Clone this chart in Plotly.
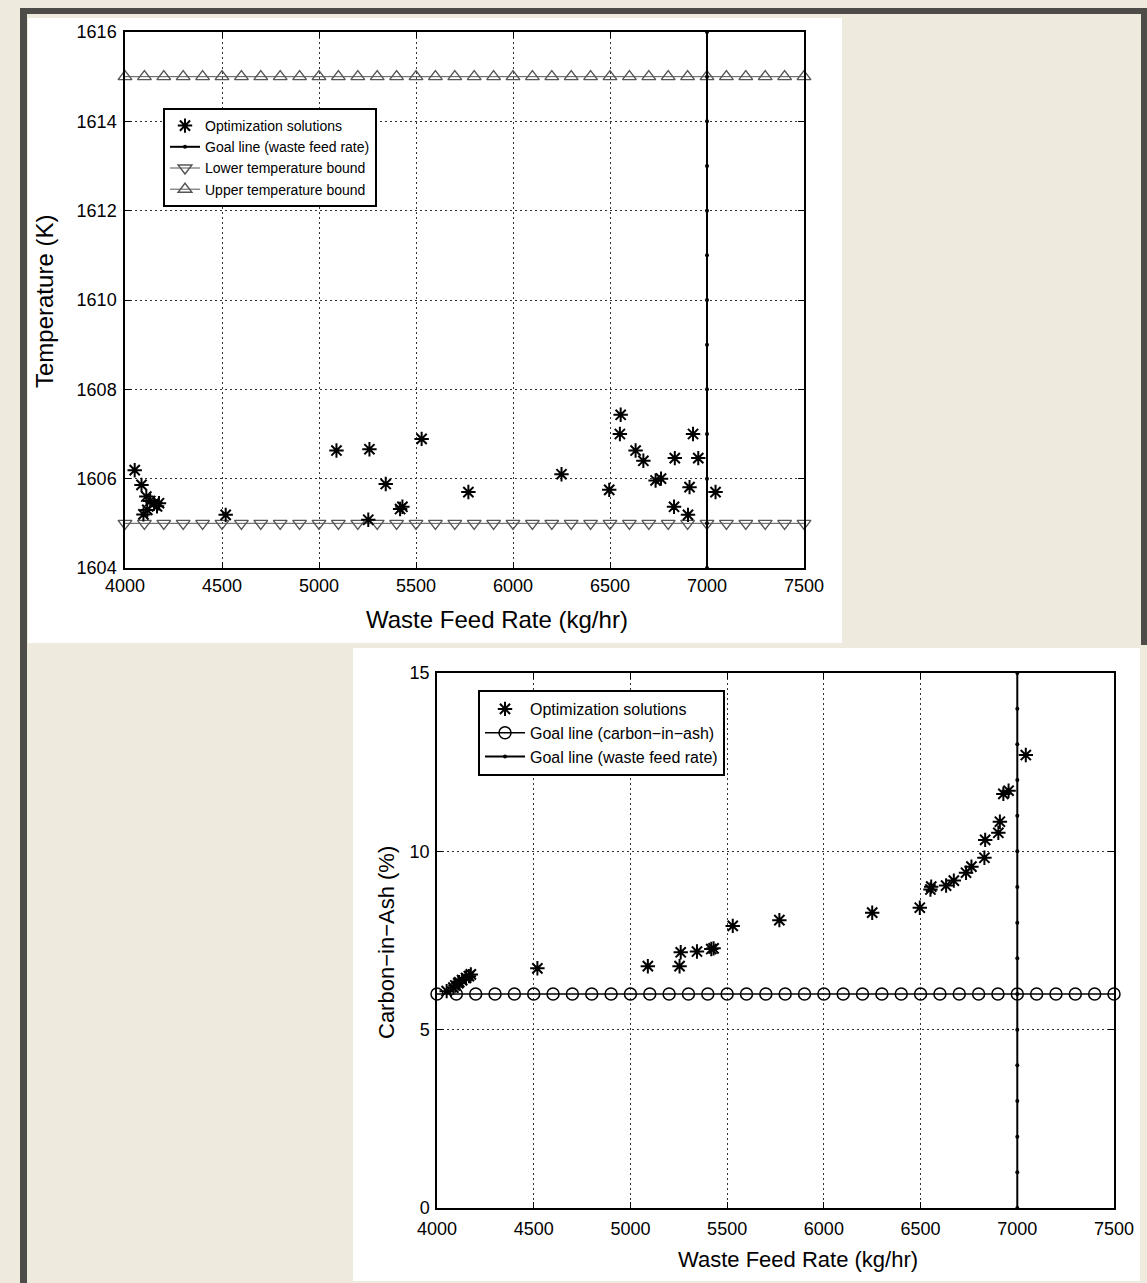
import plotly.graph_objects as go

W, H = 1147, 1283

# ---------------- data ----------------
feed_rate = [4050, 4085, 4095, 4110, 4115, 4130, 4150, 4165, 4175, 4519, 5090, 5254,
             5260, 5344, 5418, 5430, 5529, 5770, 6250, 6496, 6551, 6555, 6632, 6672,
             6735, 6763, 6830, 6834, 6902, 6910, 6928, 6955, 7044]
temperature = [1606.19, 1605.86, 1605.20, 1605.60, 1605.30, 1605.50, 1605.45, 1605.38,
               1605.45, 1605.19, 1606.63, 1605.08, 1606.66, 1605.88, 1605.32, 1605.37,
               1606.89, 1605.70, 1606.10, 1605.75, 1607.00, 1607.43, 1606.63, 1606.40,
               1605.96, 1606.00, 1605.37, 1606.46, 1605.19, 1605.81, 1607.00, 1606.46,
               1605.70]
carbon_in_ash = [6.08, 6.18, 6.24, 6.30, 6.33, 6.39, 6.45, 6.50, 6.55, 6.72, 6.78, 6.78,
                 7.17, 7.19, 7.26, 7.28, 7.91, 8.07, 8.28, 8.42, 8.93, 9.01, 9.04, 9.18,
                 9.40, 9.57, 9.82, 10.32, 10.52, 10.83, 11.61, 11.70, 12.70]

bound_x = [4000, 4100, 4200, 4300, 4400, 4500, 4600, 4700, 4800, 4900, 5000, 5100,
           5200, 5300, 5400, 5500, 5600, 5700, 5800, 5900, 6000, 6100, 6200, 6300,
           6400, 6500, 6600, 6700, 6800, 6900, 7000, 7100, 7200, 7300, 7400, 7500]
lower_temp_bound = 1605
upper_temp_bound = 1615
carbon_goal = 6
feed_goal = 7000
goal_temp_y = [1604, 1605, 1606, 1607, 1608, 1609, 1610, 1611, 1612, 1613, 1614, 1615, 1616]
goal_carbon_y = [0, 1, 2, 3, 4, 5, 6, 7, 8, 9, 10, 11, 12, 13, 14, 15]

x_ticks = [4000, 4500, 5000, 5500, 6000, 6500, 7000, 7500]
temp_ticks = [1604, 1606, 1608, 1610, 1612, 1614, 1616]
carbon_ticks = [0, 5, 10, 15]

x_title = "Waste Feed Rate (kg/hr)"
temp_title = "Temperature (K)"
carbon_title = "Carbon\u2212in\u2212Ash (%)"

FONT = "Liberation Sans, Arial, Helvetica, sans-serif"

fig = go.Figure()

# ---------- top plot ----------
fig.add_trace(go.Scatter(
    x=bound_x, y=[upper_temp_bound] * len(bound_x), mode="lines+markers",
    name="Upper temperature bound", legend="legend", legendrank=4,
    line=dict(color="#555", width=1),
    marker=dict(symbol="triangle-up-open", size=12, color="#555", line=dict(width=1.4)),
    cliponaxis=False, xaxis="x", yaxis="y"))
fig.add_trace(go.Scatter(
    x=bound_x, y=[lower_temp_bound] * len(bound_x), mode="lines+markers",
    name="Lower temperature bound", legend="legend", legendrank=3,
    line=dict(color="#555", width=1),
    marker=dict(symbol="triangle-down-open", size=12, color="#555", line=dict(width=1.4)),
    cliponaxis=False, xaxis="x", yaxis="y"))
fig.add_trace(go.Scatter(
    x=[feed_goal] * len(goal_temp_y), y=goal_temp_y, mode="lines+markers",
    name="Goal line (waste feed rate)", legend="legend", legendrank=2,
    line=dict(color="black", width=2),
    marker=dict(symbol="circle", size=4, color="black"),
    xaxis="x", yaxis="y"))
fig.add_trace(go.Scatter(
    x=feed_rate, y=temperature, mode="markers",
    name="Optimization solutions", legend="legend", legendrank=1,
    marker=dict(symbol="asterisk-open", size=12, color="black", line=dict(width=2, color="black")),
    xaxis="x", yaxis="y"))

# ---------- bottom plot ----------
fig.add_trace(go.Scatter(
    x=bound_x, y=[carbon_goal] * len(bound_x), mode="lines+markers",
    name="Goal line (carbon\u2212in\u2212ash)", legend="legend2", legendrank=2,
    line=dict(color="black", width=1.5),
    marker=dict(symbol="circle-open", size=12, color="black", line=dict(width=1.5)),
    cliponaxis=False, xaxis="x2", yaxis="y2"))
fig.add_trace(go.Scatter(
    x=[feed_goal] * len(goal_carbon_y), y=goal_carbon_y, mode="lines+markers",
    name="Goal line (waste feed rate)", legend="legend2", legendrank=3,
    line=dict(color="black", width=2),
    marker=dict(symbol="circle", size=4, color="black"),
    xaxis="x2", yaxis="y2"))
fig.add_trace(go.Scatter(
    x=feed_rate, y=carbon_in_ash, mode="markers",
    name="Optimization solutions", legend="legend2", legendrank=1,
    marker=dict(symbol="asterisk-open", size=12, color="black", line=dict(width=2, color="black")),
    xaxis="x2", yaxis="y2"))

axis_common = dict(
    automargin=False,
    showline=True, linecolor="black", linewidth=1.5, mirror="ticks",
    ticks="inside", ticklen=6, tickcolor="black", tickwidth=1.2,
    showgrid=True, gridcolor="#333", griddash="2px,3px", gridwidth=1,
    zeroline=False, tickfont=dict(size=18, color="black", family=FONT),
)

def px2x(p):
    return p / W

def px2y(p):
    return 1 - p / H

layout_shapes = []
def rect(x0, y0, x1, y1, color):
    layout_shapes.append(dict(type="rect", xref="paper", yref="paper",
                              x0=px2x(x0), x1=px2x(x1), y0=px2y(y1), y1=px2y(y0),
                              fillcolor=color, line=dict(width=0), layer="below"))

rect(28, 18, 842, 643, "white")
rect(353, 648, 1140, 1281, "white")
rect(20, 8, 1147, 14, "#4d4c49")
rect(20, 8, 27, 1283, "#4d4c49")
rect(1141, 8, 1147, 645, "#4d4c49")

def label(text, xp, yp, size, angle=0):
    return dict(text=text, xref="paper", yref="paper", x=px2x(xp), y=px2y(yp),
                xanchor="center", yanchor="middle", showarrow=False, textangle=angle,
                font=dict(size=size, family=FONT, color="black"))

annotations = [
    label(x_title, 497, 620, 24),
    label(temp_title, 44, 302, 24, -90),
    label(x_title, 798, 1259, 22),
    label(carbon_title, 386, 943, 22, -90),
]

fig.update_layout(
    template="none",
    width=W, height=H, margin=dict(l=0, r=0, t=0, b=0, pad=0), autosize=False,
    paper_bgcolor="#eeeadd", plot_bgcolor="white",
    font=dict(family=FONT, color="black"),
    shapes=layout_shapes,
    annotations=annotations,
    xaxis=dict(axis_common, domain=[px2x(125), px2x(804)], range=[4000, 7500],
               tickvals=x_ticks, anchor="y", ticklabelstandoff=1),
    yaxis=dict(axis_common, domain=[px2y(568), px2y(32)], range=[1604, 1616],
               tickvals=temp_ticks, anchor="x", ticklabelstandoff=3),
    xaxis2=dict(axis_common, domain=[px2x(437), px2x(1114)], range=[4000, 7500],
                tickvals=x_ticks, anchor="y2", ticklabelstandoff=4),
    yaxis2=dict(axis_common, domain=[px2y(1208), px2y(673)], range=[0, 15],
                tickvals=carbon_ticks, anchor="x2", ticklabelstandoff=2),
    legend=dict(x=px2x(163), y=px2y(108), xanchor="left", yanchor="top",
                bgcolor="white", bordercolor="black", borderwidth=2,
                font=dict(size=14, family=FONT), tracegroupgap=0, itemwidth=30),
    legend2=dict(x=px2x(478), y=px2y(690), xanchor="left", yanchor="top",
                 bgcolor="white", bordercolor="black", borderwidth=2,
                 font=dict(size=16, family=FONT), tracegroupgap=0, itemwidth=40),
    showlegend=True,
)

fig.write_html("out.html")
